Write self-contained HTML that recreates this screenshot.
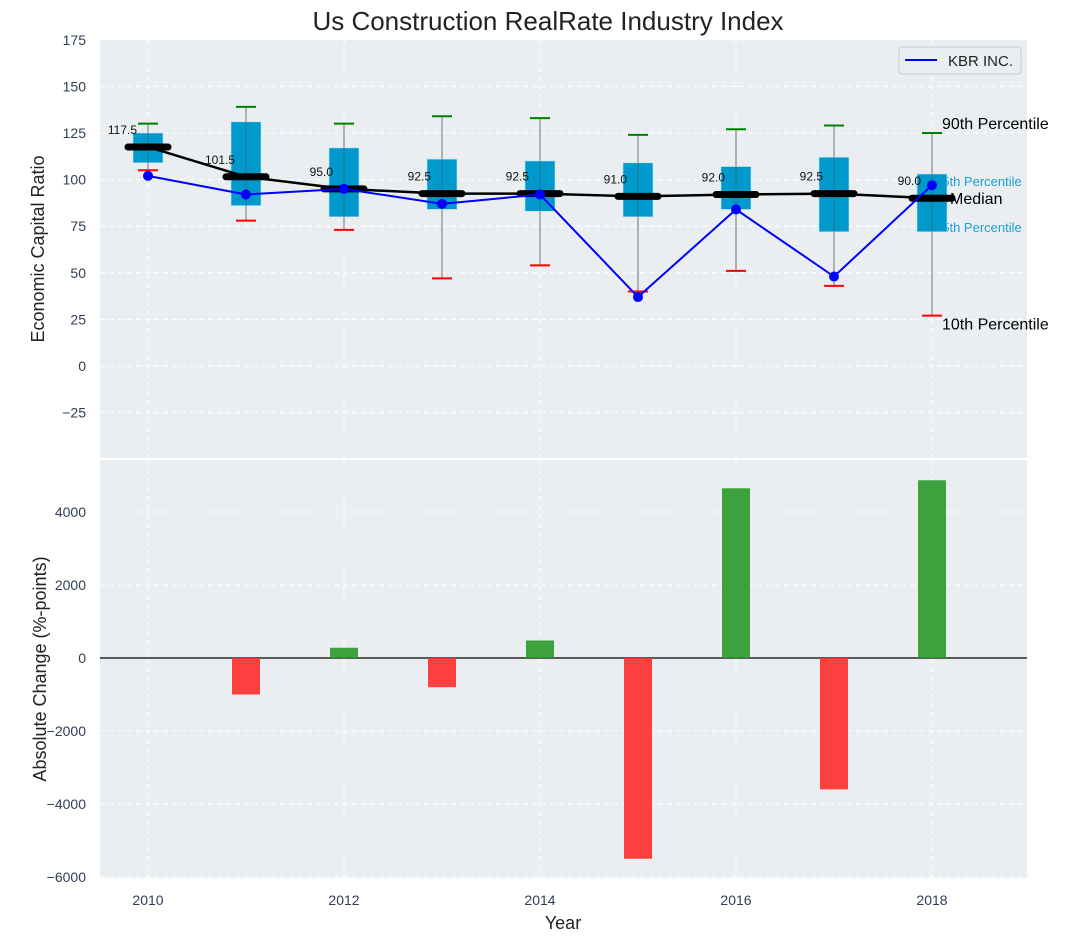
<!DOCTYPE html>
<html><head><meta charset="utf-8"><style>
body{margin:0;background:#fff;}
svg{display:block;font-family:"Liberation Sans","DejaVu Sans",sans-serif;}
</style></head><body>
<svg id="chart" width="1077" height="942" xmlns="http://www.w3.org/2000/svg">
<text x="548" y="30" text-anchor="middle" font-size="26" fill="#222">Us Construction RealRate Industry Index</text>
<rect x="100" y="40" width="927" height="418" fill="#eaeef0"/>
<rect x="100" y="460" width="927" height="418" fill="#eaeef0"/>
<g id="gtop"></g><g id="gbot"></g>
<text transform="translate(44,249) rotate(-90)" text-anchor="middle" font-size="18" fill="#222">Economic Capital Ratio</text>
<text transform="translate(46,669) rotate(-90)" text-anchor="middle" font-size="18" fill="#222">Absolute Change (%-points)</text>
<text x="563" y="929" text-anchor="middle" font-size="18" fill="#222">Year</text>
<g>
<rect x="899" y="47" width="122" height="27" rx="3" fill="#eaeef0" stroke="#ccc"/>
<line x1="905" y1="60" x2="937" y2="60" stroke="#0000ff" stroke-width="2"/>
<text x="948" y="66" font-size="15" fill="#222">KBR INC.</text>
</g>
</svg>
<script>
const years=[2010,2011,2012,2013,2014,2015,2016,2017,2018];
const p90=[130,139,130,134,133,124,127,129,125];
const p75=[125,131,117,111,110,109,107,112,103];
const med=[117.5,101.5,95.0,92.5,92.5,91.0,92.0,92.5,90.0];
const p25=[109,86,80,84,83,80,84,72,72];
const p10=[105,78,73,47,54,40,51,43,27];
const kbr=[102,92,95,87,92,37,84,48,97];
const change=[0,-1000,280,-800,480,-5500,4650,-3600,4870];
const topTicks=[-25,0,25,50,75,100,125,150,175];
const botTicks=[-6000,-4000,-2000,0,2000,4000];
const xTicks=[2010,2012,2014,2016,2018];

const NS="http://www.w3.org/2000/svg";
const X=v=>148+(v-2010)*98;
const Y1=v=>366-v*1.864;
const Y2=v=>658-v*0.0365;
function mk(p,tag,a,txt){const e=document.createElementNS(NS,tag);for(const k in a)e.setAttribute(k,a[k]);if(txt!=null)e.textContent=txt;p.appendChild(e);return e;}
const gTop=document.getElementById('gtop'),gBot=document.getElementById('gbot');

xTicks.forEach(t=>{[[40,458],[460,878]].forEach(r=>{const g=mk(gTop,'line',{x1:X(t),x2:X(t),y1:r[0],y2:r[1],stroke:'#fff','stroke-dasharray':'5,4','stroke-width':1});

});
const l=mk(gBot,'text',{x:X(t),y:905,'text-anchor':'middle','font-size':14,fill:'#2e3f55'},t);

});
topTicks.forEach(t=>{const g=mk(gTop,'line',{x1:100,x2:1027,y1:Y1(t),y2:Y1(t),stroke:'#fff','stroke-dasharray':'5,4'});


const l=mk(gTop,'text',{x:86,y:Y1(t)+5,'text-anchor':'end','font-size':14,fill:'#2e3f55'},String(t).replace('-','\u2212'));

});
botTicks.forEach(t=>{const g=mk(gBot,'line',{x1:100,x2:1027,y1:Y2(t),y2:Y2(t),stroke:'#fff','stroke-dasharray':'5,4'});


const l=mk(gBot,'text',{x:86,y:Y2(t)+5,'text-anchor':'end','font-size':14,fill:'#2e3f55'},String(t).replace('-','\u2212'));

});
const sep=mk(gTop,'line',{x1:100,x2:1027,y1:459,y2:459,stroke:'#fff','stroke-width':2});



const L=years.length-1,lx=X(years[L]);
[['75th Percentile',p75[L],'#1a9fd0',13,lx+3,12],['25th Percentile',p25[L],'#1a9fd0',13,lx+3,0]].forEach(a=>{
const t=mk(gTop,'text',{x:a[4],y:Y1(a[1])+a[5],'font-size':a[3],fill:a[2]},a[0]);

});

years.forEach((yr,i)=>{const x=X(yr);
const w=mk(gTop,'line',{x1:x,x2:x,y1:Y1(p90[i]),y2:Y1(p10[i]),stroke:'#888','stroke-width':1.2});


const b=mk(gTop,'rect',{x:x-15,y:Y1(p75[i]),width:30,height:Y1(p25[i])-Y1(p75[i]),fill:'#0099cc',stroke:'#bfe6f2','stroke-width':0.6});


mk(gTop,'line',{x1:x,x2:x,y1:Y1(p75[i]),y2:Y1(p25[i]),stroke:'#555','stroke-width':1,opacity:0.6});
const h=mk(gTop,'line',{x1:x-10,x2:x+10,y1:Y1(p90[i]),y2:Y1(p90[i]),stroke:'#008000','stroke-width':2});


const lo=mk(gTop,'line',{x1:x-10,x2:x+10,y1:Y1(p10[i]),y2:Y1(p10[i]),stroke:'#ff0000','stroke-width':2});


});
const ml=mk(gTop,'polyline',{points:years.map((y,i)=>X(y)+','+Y1(med[i])).join(' '),fill:'none',stroke:'#000','stroke-width':2.5});


years.forEach((yr,i)=>{const x=X(yr);
const m=mk(gTop,'line',{x1:x-20,x2:x+20,y1:Y1(med[i]),y2:Y1(med[i]),stroke:'#000','stroke-width':7,'stroke-linecap':'round'});


const t=mk(gTop,'text',{x:x-11,y:Y1(med[i])-13,'text-anchor':'end','font-size':12,fill:'#111'},med[i].toFixed(1));

});
const kl=mk(gTop,'polyline',{points:years.map((y,i)=>X(y)+','+Y1(kbr[i])).join(' '),fill:'none',stroke:'#0000ff','stroke-width':2});


years.forEach((yr,i)=>{const c=mk(gTop,'circle',{cx:X(yr),cy:Y1(kbr[i]),r:5,fill:'#0000ff'});

});
[['90th Percentile',p90[L],'#000',16,lx+10,-4],['Median',med[L],'#000',16,lx+18,6],['10th Percentile',p10[L],'#000',16,lx+10,14]].forEach(a=>{
const t=mk(gTop,'text',{x:a[4],y:Y1(a[1])+a[5],'font-size':a[3],fill:a[2]},a[0]);

});
const z=mk(gBot,'line',{x1:100,x2:1027,y1:Y2(0),y2:Y2(0),stroke:'#000','stroke-width':1.2});


years.forEach((yr,i)=>{if(!change[i])return;const v=change[i];
const r=mk(gBot,'rect',{x:X(yr)-14,y:Math.min(Y2(v),Y2(0)),width:28,height:Math.abs(Y2(v)-Y2(0)),fill:v>0?'#2e9a2e':'#ff3030',opacity:0.92});

});
</script>
</body></html>
